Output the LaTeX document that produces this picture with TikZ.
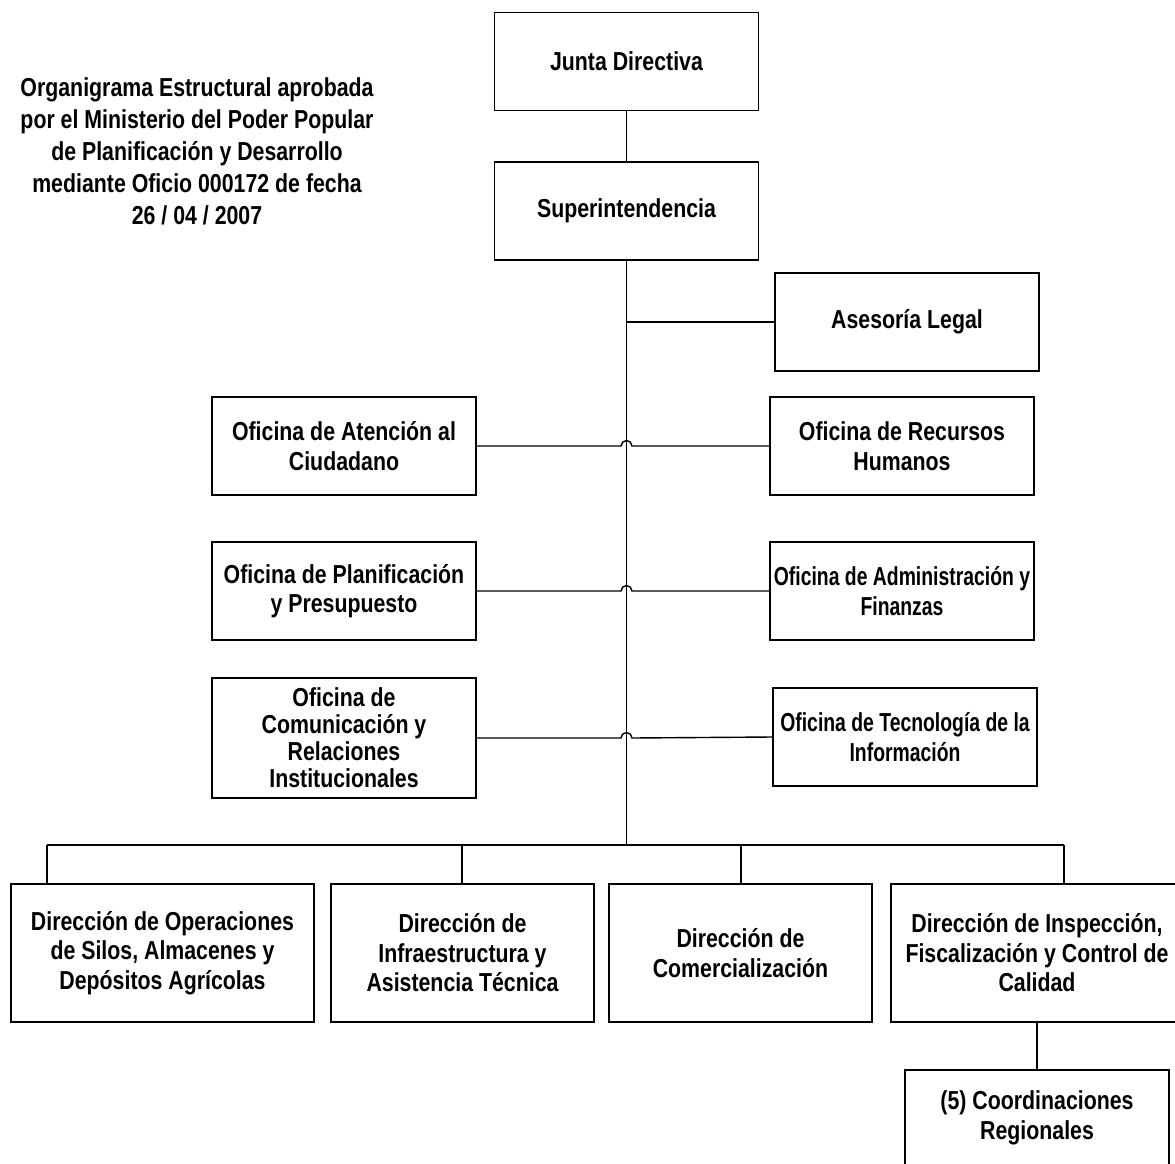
\documentclass[tikz,border=0pt]{standalone}
\usepackage{fontspec}
\setmainfont{Liberation Sans}[FakeStretch=0.82]
\newfontfamily\narrowfont{Liberation Sans}[FakeStretch=0.745]
\usetikzlibrary{positioning,calc}

\begin{document}
\begin{tikzpicture}[x=1pt,y=-1pt,
    unit/.style={%
      draw,
      rectangle,
      line width=1.4pt,
      align=center,
      inner sep=2pt,
      minimum width=264pt,
      minimum height=98pt,
      font=\bfseries\fontsize{26}{29.5}\selectfont,
    },
    slim/.style={%
      unit,
      font=\narrowfont\bfseries\fontsize{26}{29.5}\selectfont,
    },
    wide/.style={%
      unit,
      minimum height=138pt,
    },
    link/.style={line width=1.4pt},
  ]
    \useasboundingbox (0,0) rectangle (1175,1164);

    \node [align=center, font=\bfseries\fontsize{26}{32}\selectfont] (title) at (197,151)
      {Organigrama Estructural aprobada\\por el Ministerio del Poder Popular\\de Planificación y Desarrollo\\mediante Oficio 000172 de fecha\\26 / 04 / 2007};

    \node [unit] (junta) at (626.5,61.5) {Junta Directiva};
    \node [unit] (super) at (626.5,211) {Superintendencia};
    \node [unit] (legal) at (907,322) {Asesoría Legal};
    \node [unit] (atencion) at (344,446) {Oficina de Atención al\\Ciudadano};
    \node [unit] (rrhh) at (902,446) {Oficina de Recursos\\Humanos};
    \node [unit] (planif) at (344,591) {Oficina de Planificación\\y Presupuesto};
    \node [slim] (admin) at (902,591) {Oficina de Administración y\\Finanzas};
    \node [unit, minimum height=120pt, font=\bfseries\fontsize{26}{27}\selectfont] (comunic) at (344,738)
      {Oficina de\\Comunicación y\\Relaciones\\Institucionales};
    \node [slim] (tecno) at (905,737) {Oficina de Tecnología de la\\Información};

    \node [wide, minimum width=303pt] (dirops) at (162.5,953) {Dirección de Operaciones\\de Silos, Almacenes y\\Depósitos Agrícolas};
    \node [wide, minimum width=263pt] (dirinfra) at (462.5,953) {Dirección de\\Infraestructura y\\Asistencia Técnica};
    \node [wide, minimum width=263pt] (dircom) at (740.5,953) {Dirección de\\Comercialización};
    \node [wide, minimum width=292pt] (dirinsp) at (1037,953) {Dirección de Inspección,\\Fiscalización y Control de\\Calidad};
    \node [unit, minimum height=96pt] (coord) at (1037,1118) {(5) Coordinaciones\\Regionales};

    \coordinate (bus) at (626.5,845);
    \coordinate (b1) at (47,845);
    \coordinate (b2) at (462,845);
    \coordinate (b3) at (741,845);
    \coordinate (b4) at (1064,845);

    % trunk
    \draw [link] (junta) -- (super);
    \draw [link] (super) -- (bus);
    \draw [link] (legal.west -| bus) -- (legal);

    % crossing lines with hops
    \draw [link] (atencion.east) -- ($(atencion.east -| bus)+(-5.5,0)$)
      arc [start angle=180, end angle=360, radius=5.5] -- (rrhh.west);
    \draw [link] (planif.east) -- ($(planif.east -| bus)+(-5.5,0)$)
      arc [start angle=180, end angle=360, radius=5.5] -- (admin.west);
    \draw [link] (comunic.east) -- ($(comunic.east -| bus)+(-5.5,0)$)
      arc [start angle=180, end angle=360, radius=5.5] -- (tecno.west);

    % directions
    \draw [link] (b1) -- (b4);
    \draw [link] (b1) -- (b1 |- dirops.north);
    \draw [link] (b2) -- (b2 |- dirinfra.north);
    \draw [link] (b3) -- (b3 |- dircom.north);
    \draw [link] (b4) -- (b4 |- dirinsp.north);
    \draw [link] (dirinsp) -- (coord);
\end{tikzpicture}
\end{document}
